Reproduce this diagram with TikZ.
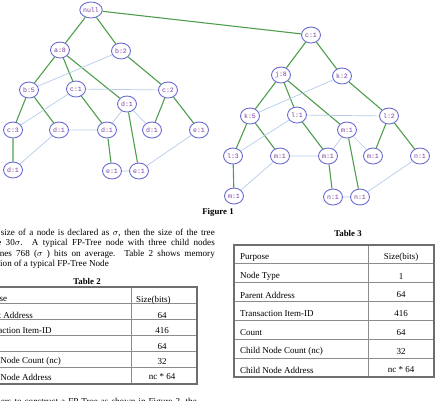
\documentclass[tikz,border=0pt]{standalone}
\usepackage{fontspec}
\setmainfont{Liberation Serif}
\newfontfamily\nodefont{Liberation Mono}
\usetikzlibrary{shapes.geometric}
\definecolor{nodeborder}{HTML}{6A6AD2}
\definecolor{nodetext}{HTML}{7A3C9C}
\definecolor{treegreen}{HTML}{4E9E4E}
\definecolor{linkblue}{HTML}{B4CCEA}
\definecolor{tabframe}{HTML}{6E6E6E}
\definecolor{tabline}{HTML}{8C8C8C}
\begin{document}
\begin{tikzpicture}[x=1pt,y=-1pt,
  fp/.style={ellipse, draw=nodeborder, line width=0.9pt, fill=white,
    minimum width=19pt, minimum height=16pt, inner sep=0pt,
    font=\nodefont\fontsize{6.6}{6.6}\selectfont, text=nodetext},
  tree/.style={draw=treegreen, line width=1.1pt},
  link/.style={draw=linkblue, line width=0.7pt},
  body/.style={font=\fontsize{9.1}{10}\selectfont, inner sep=0pt},
  captext/.style={font=\fontsize{8.8}{10}\selectfont\bfseries, inner sep=0pt},
  cell/.style={font=\fontsize{9}{10}\selectfont, inner sep=0pt},
  tabframe/.style={draw=tabframe, line width=1.6pt},
  tabrule/.style={draw=tabline, line width=1pt}]
\useasboundingbox (0,0) rectangle (439,400);
\clip (0,0) rectangle (439,400);

% ---------- left tree ----------
\node[fp] (null) at (91,10) {null};
\node[fp] (a8) at (60,50) {a:8};
\node[fp] (b2) at (121,51) {b:2};
\node[fp] (b5) at (29,90) {b:5};
\node[fp] (c1) at (76,89) {c:1};
\node[fp] (c2) at (168,90) {c:2};
\node[fp] (d1m) at (127,104) {d:1};
\node[fp] (c3) at (13,130) {c:3};
\node[fp] (d1a) at (59,130) {d:1};
\node[fp] (d1b) at (107,130) {d:1};
\node[fp] (d1c) at (152,130) {d:1};
\node[fp] (e1a) at (199,130) {e:1};
\node[fp] (d1d) at (13,170) {d:1};
\node[fp] (e1b) at (112,171) {e:1};
\node[fp] (e1c) at (139,171) {e:1};

% ---------- right tree ----------
\node[fp] (rc1) at (311,35) {c:1};
\node[fp] (j8) at (281,75) {j:8};
\node[fp] (k2) at (342,76) {k:2};
\node[fp] (k5) at (250,116) {k:5};
\node[fp] (l1) at (297,115) {l:1};
\node[fp] (l2) at (389,116) {l:2};
\node[fp] (m1m) at (347,130) {m:1};
\node[fp] (l3) at (233,156) {l:3};
\node[fp] (m1a) at (280,156) {m:1};
\node[fp] (m1b) at (328,156) {m:1};
\node[fp] (m1c) at (373,156) {m:1};
\node[fp] (n1a) at (420,156) {n:1};
\node[fp] (m1d) at (234,196) {m:1};
\node[fp] (n1b) at (333,197) {n:1};
\node[fp] (n1c) at (360,197) {n:1};

% tree edges
\path[tree] (null) -- (a8) (null) -- (b2) (null) -- (rc1)
  (a8) -- (b5) (a8) -- (c1) (a8) -- (d1m) (b2) -- (c2)
  (b5) -- (c3) (b5) -- (d1a) (c1) -- (d1b) (d1m) -- (e1c)
  (c2) -- (d1c) (c2) -- (e1a) (c3) -- (d1d) (d1b) -- (e1b);
\path[tree] (rc1) -- (j8) (rc1) -- (k2)
  (j8) -- (k5) (j8) -- (l1) (j8) -- (m1m) (k2) -- (l2)
  (k5) -- (l3) (k5) -- (m1a) (l1) -- (m1b) (m1m) -- (n1c)
  (l2) -- (m1c) (l2) -- (n1a) (l3) -- (m1d) (m1b) -- (n1b);
% node links
\path[link] (b2) -- (b5) (c1) -- (c2) (c1) -- (c3)
  (d1a) -- (d1b) (d1b) -- (d1m) (d1m) -- (d1c) (d1a) -- (d1d)
  (e1a) -- (e1c) (e1b) -- (e1c);
\path[link] (k2) -- (k5) (l1) -- (l2) (l1) -- (l3)
  (m1a) -- (m1b) (m1b) -- (m1m) (m1m) -- (m1c) (m1a) -- (m1d)
  (n1a) -- (n1c) (n1b) -- (n1c);

\node[captext] (fig) at (218,212) {Figure 1};

% ---------- paragraph ----------
\node[body, anchor=east] (p1) at (215,233) {\makebox[214pt][s]{size of a node is declared as $\sigma$, then the size of the tree}};
\node[body, anchor=east] (p2) at (215,243.5) {\makebox[222pt][s]{be 30$\sigma$. A typical FP-Tree node with three child nodes}};
\node[body, anchor=east] (p3) at (215,254) {\makebox[215pt][s]{nes 768 ($\sigma$ ) bits on average. Table 2 shows memory}};
\node[body, anchor=west] (p4) at (0,264) {ion of a typical FP-Tree Node};
\node[body, anchor=base east] (p5) at (197,404) {\makebox[196pt][s]{ers to construct a FP-Tree as shown in Figure 2, the}};

% ---------- table 2 ----------
\node[captext] (t2cap) at (87,281) {Table 2};
\foreach \r in {1,...,5} \draw[tabrule] (-30,287+\r*16.17) -- (197,287+\r*16.17);
\draw[tabrule] (131,287) -- (131,384);
\draw[tabframe] (-30,287) rectangle (197,384);
\node[cell, anchor=west] (t2a1) at (-22,300) {Purpose};
\node[cell, anchor=west] (t2b1) at (136,300) {Size(bits)};
\node[cell, anchor=west] (t2a2) at (-22,315.5) {Parent Address};
\node[cell] (t2b2) at (162,315.5) {64};
\node[cell, anchor=west] (t2a3) at (-22,331) {Transaction Item-ID};
\node[cell] (t2b3) at (162,331) {416};
\node[cell, anchor=west] (t2a4) at (-22,346.5) {Count};
\node[cell] (t2b4) at (162,346.5) {64};
\node[cell, anchor=west] (t2a5) at (-22,361.5) {Child Node Count (nc)};
\node[cell] (t2b5) at (162,361.5) {32};
\node[cell, anchor=west] (t2a6) at (-22,377) {Child Node Address};
\node[cell] (t2b6) at (162,377) {nc * 64};

% ---------- table 3 ----------
\node[captext] (t3cap) at (348,233) {Table 3};
\foreach \r in {1,...,6} \draw[tabrule] (234,245+\r*18.857) -- (434,245+\r*18.857);
\draw[tabrule] (368,245) -- (368,377);
\draw[tabframe] (234,245) rectangle (434,377);
\node[cell, anchor=west] (t3a1) at (240,257.5) {Purpose};
\node[cell] (t3b1) at (401,257.5) {Size(bits)};
\node[cell, anchor=west] (t3a2) at (240,276.5) {Node Type};
\node[cell] (t3b2) at (401,276.5) {1};
\node[cell, anchor=west] (t3a3) at (240,295) {Parent Address};
\node[cell] (t3b3) at (401,295) {64};
\node[cell, anchor=west] (t3a4) at (240,314) {Transaction Item-ID};
\node[cell] (t3b4) at (401,314) {416};
\node[cell, anchor=west] (t3a5) at (240,333) {Count};
\node[cell] (t3b5) at (401,333) {64};
\node[cell, anchor=west] (t3a6) at (240,351.5) {Child Node Count (nc)};
\node[cell] (t3b6) at (401,351.5) {32};
\node[cell, anchor=west] (t3a7) at (240,370) {Child Node Address};
\node[cell] (t3b7) at (401,370) {nc * 64};
\end{tikzpicture}
\end{document}
